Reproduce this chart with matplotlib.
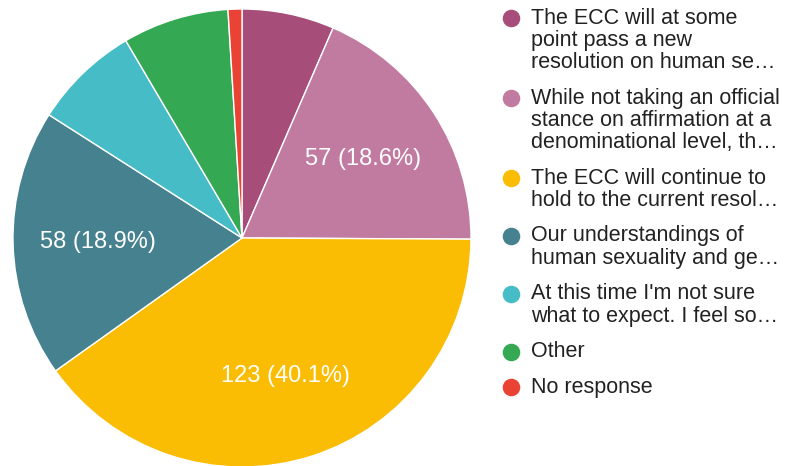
import matplotlib.pyplot as plt

plt.rcParams['font.family'] = ['Liberation Sans', 'DejaVu Sans']

# Survey answers, counts and colours (Google Forms palette)
labels = [
    ['The ECC will at some', 'point pass a new', 'resolution on human se…'],
    ['While not taking an official', 'stance on affirmation at a', 'denominational level, th…'],
    ['The ECC will continue to', 'hold to the current resol…'],
    ['Our understandings of', 'human sexuality and ge…'],
    ["At this time I'm not sure", 'what to expect. I feel so…'],
    ['Other'],
    ['No response'],
]
counts = [20, 57, 123, 58, 23, 23, 3]
colors = ['#a64d79', '#c27ba0', '#fbbc04', '#45818e', '#46bdc6', '#34a853', '#ea4335']

W, H = 787, 466
fig = plt.figure(figsize=(W / 100, H / 100), dpi=100)
ax = fig.add_axes([0, 0, 1, 1])

total = sum(counts)


def pct_label(pct):
    if pct < 10:
        return ''
    return f'{round(pct * total / 100)} ({pct:.1f}%)'


wedges, texts, autotexts = ax.pie(
    counts, colors=colors, startangle=90, counterclock=False,
    center=(242, H - 238), radius=229,
    autopct=pct_label, pctdistance=0.63,
    wedgeprops=dict(edgecolor='white', linewidth=1),
    textprops=dict(color='white', fontsize=17),
)

ax.set_xlim(0, W)
ax.set_ylim(0, H)
ax.set_aspect('equal')
ax.axis('off')

# Legend on the right, laid out in pixels
line_h = 22.3
gap = 35.5
y = 18
for lines, color in zip(labels, colors):
    ax.scatter([511], [H - y], s=135, color=color, zorder=3)
    for j, line in enumerate(lines):
        ax.text(531, H - (y + j * line_h), line, fontsize=15.5,
                color='#222222', va='center', ha='left')
    y += (len(lines) - 1) * line_h + gap

plt.savefig('out.png', dpi=100)
